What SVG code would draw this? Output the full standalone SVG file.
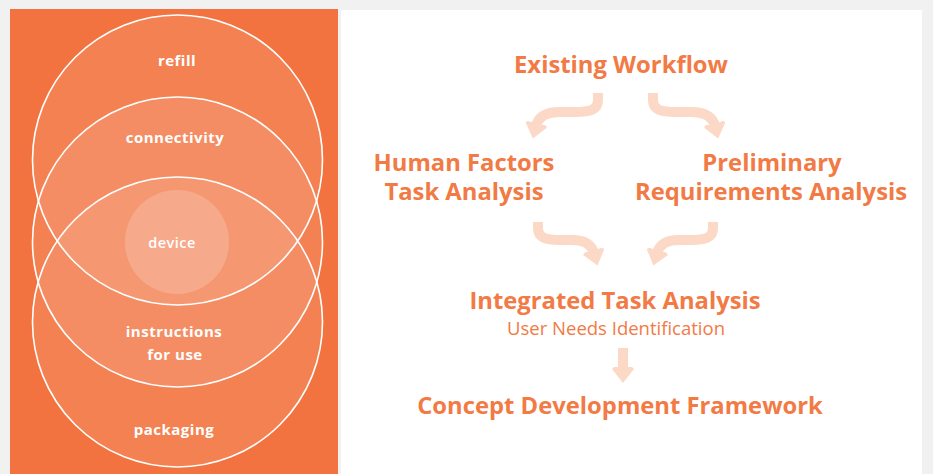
<svg xmlns="http://www.w3.org/2000/svg" width="933" height="474" viewBox="0 0 933 474">
  <defs>
    <style>
      .venn { fill: #ffffff; fill-opacity: 0.1; stroke: #ffffff; stroke-width: 1.6; }
      .vlabel { font-family: "Open Sans", "Liberation Sans", sans-serif; font-weight: 700; font-size: 15px; fill: #ffffff; text-anchor: middle; letter-spacing: 0.5px; }
      .title { font-family: "Open Sans", "Liberation Sans", sans-serif; font-weight: 700; font-size: 23.8px; fill: #F27A45; text-anchor: middle; }
      .sub { font-family: "Open Sans", "Liberation Sans", sans-serif; font-weight: 400; font-size: 18.5px; fill: #F27A45; text-anchor: middle; }
      .flow { fill: none; stroke: #FCD8C6; stroke-width: 10; }
    </style>
    <marker id="head" viewBox="0 0 16 22" refX="3" refY="11" markerWidth="16" markerHeight="22" markerUnits="userSpaceOnUse" orient="auto">
      <path d="M0,2 L2,0 L16,11 L2,22 L0,20 Z" fill="#FCD8C6"/>
    </marker>
  </defs>
  <rect width="933" height="474" fill="#F1F1F1"/>
  <rect x="341" y="10" width="581" height="464" fill="#ffffff"/>
  <rect x="10" y="9" width="328" height="465" fill="#F2733F"/>

  <g id="venn">
    <g id="refill">
      <circle class="venn" cx="177.5" cy="160" r="145"/>
      <text class="vlabel" x="177" y="66">refill</text>
    </g>
    <g id="connectivity">
      <circle class="venn" cx="177.5" cy="242" r="145"/>
      <text class="vlabel" x="175" y="143">connectivity</text>
    </g>
    <g id="packaging">
      <circle class="venn" cx="177.5" cy="322" r="145"/>
      <text class="vlabel" x="174" y="435">packaging</text>
    </g>
    <g id="instructions">
      <text class="vlabel" x="174" y="337">instructions</text>
      <text class="vlabel" x="175" y="360">for use</text>
    </g>
    <g id="device">
      <circle cx="177" cy="242" r="52" fill="#ffffff" fill-opacity="0.18"/>
      <text class="vlabel" x="172" y="248" style="font-weight:600;font-size:14.5px">device</text>
    </g>
  </g>

  <g id="connectors">
    <path class="flow" d="M598,93 L598,100 C598,110 590,112 575,112 L560,112 C545,112 538,118 536,126" marker-end="url(#head)"/>
    <path class="flow" d="M653,93 L653,100 C653,110 661,112 676,112 L691,112 C706,112 713,118 715,126" marker-end="url(#head)"/>
    <path class="flow" d="M538,222 L538,228 C538,238 546,240 560,240 L572,240 C586,240 592,246 594,253" marker-end="url(#head)"/>
    <path class="flow" d="M713,222 L713,228 C713,238 705,240 691,240 L679,240 C665,240 659,246 657,253" marker-end="url(#head)"/>
    <path class="flow" d="M623,348 L623,370" marker-end="url(#head)"/>
  </g>

  <g id="existing-workflow">
    <text class="title" x="621" y="73">Existing Workflow</text>
  </g>
  <g id="human-factors">
    <text class="title" x="464" y="171">Human Factors</text>
    <text class="title" x="464" y="200">Task Analysis</text>
  </g>
  <g id="preliminary">
    <text class="title" x="772" y="171">Preliminary</text>
    <text class="title" x="771" y="200">Requirements Analysis</text>
  </g>
  <g id="integrated">
    <text class="title" x="615" y="309">Integrated Task Analysis</text>
    <text class="sub" x="616" y="335">User Needs Identification</text>
  </g>
  <g id="concept">
    <text class="title" x="620" y="414">Concept Development Framework</text>
  </g>
</svg>
